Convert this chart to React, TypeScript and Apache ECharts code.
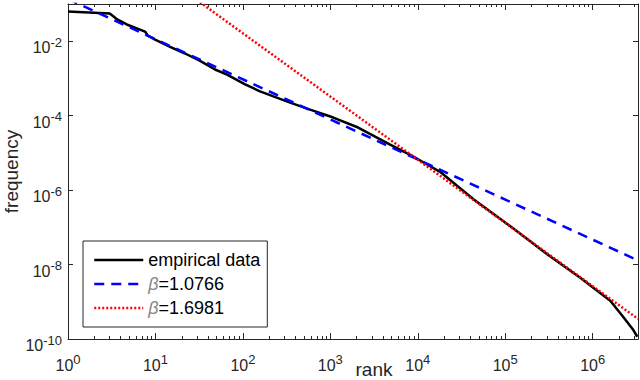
import React, { useEffect, useRef } from 'react';
import * as echarts from 'echarts';

// Empirical rank-frequency data
const empiricalRank = [1, 3, 3.7, 4.7, 7.6, 8.2, 9.9, 14.7, 21.8, 32.4, 48, 66, 106, 157, 347, 587, 1080, 2080, 4830, 8180, 18000, 43000, 124000, 302000, 721000, 1590000, 2240000, 2920000, 3240000];
const empiricalFreq = [0.063, 0.0556, 0.038, 0.0282, 0.0182, 0.0141, 0.011, 0.00708, 0.00468, 0.00295, 0.00174, 0.00126, 6.9e-4, 4.5e-4, 2.24e-4, 1.45e-4, 8.9e-5, 4.8e-5, 1.66e-5, 8.9e-6, 3.1e-6, 5.75e-7, 9.3e-8, 1.9e-8, 4.4e-9, 1.07e-9, 3.9e-10, 1.74e-10, 1.15e-10];

// Power-law fit lines (end points)
const fit1Rank = [1, 3.3e6];
const fit1Freq = [0.135, 1.29e-8];
const fit2Rank = [25, 3.3e6];
const fit2Freq = [0.172, 3.47e-10];

const seriesNames = ['empirical data', 'β=1.0766', 'β=1.6981'];

const xTickExponents = [0, 1, 2, 3, 4, 5, 6];
const yTickExponents = [-10, -8, -6, -4, -2];
const minorMultipliers = [2, 3, 4, 5, 6, 7, 8, 9];

const xMin = 1;
const xMax = 3.3e6;
const yMin = 1e-10;
const yMax = 0.1;

const FONT = '"Liberation Sans", Arial, Helvetica, sans-serif';
const AX = '#262626';

export default function App() {
  const ref = useRef<HTMLDivElement>(null);
  useEffect(() => {
    if (!ref.current) return;
    const chart = echarts.init(ref.current, undefined, { renderer: 'svg' });
    const lx = (v: number) => Math.log10(v);
    const xLo = lx(xMin), xHi = lx(xMax), yLo = lx(yMin), yHi = lx(yMax);
    const minorX: number[] = [];
    for (const d of xTickExponents) {
      for (const k of minorMultipliers) {
        const v = lx(k) + d;
        if (v < xHi) minorX.push(v);
      }
    }
    const pts = (r: number[], f: number[]) => r.map((x, i) => [lx(x), lx(f[i])]);
    const rich = {
      b: { fontSize: 16, fontFamily: FONT, color: AX, lineHeight: 20, verticalAlign: 'bottom' as const },
      s: { fontSize: 13, fontFamily: FONT, color: AX, lineHeight: 7, verticalAlign: 'top' as const },
    };
    const fmt = (v: number) => `{b|10}{s|${Math.round(v)}}`;
    const axisLine = { show: true, onZero: false, lineStyle: { color: AX, width: 1 } };
    const tickStyle = { color: AX, width: 1 };
    const baseX = { type: 'value' as const, min: xLo, max: xHi, splitLine: { show: false } };
    const baseY = { type: 'value' as const, min: yLo, max: yHi, splitLine: { show: false } };
    const hideSymbol = { opacity: 0, borderWidth: 0 };

    chart.setOption({
      animation: false,
      backgroundColor: '#fff',
      grid: { left: 68, right: 2, top: 4, bottom: 41, containLabel: false, outerBoundsMode: 'none' },
      xAxis: [
        {
          ...baseX, position: 'bottom', axisLine,
          axisTick: { inside: true, length: 6, customValues: xTickExponents, lineStyle: tickStyle },
          axisLabel: { customValues: xTickExponents, formatter: fmt, rich, margin: 14 },
          name: 'rank', nameLocation: 'middle', nameGap: 21, nameMoveOverlap: false,
          nameTextStyle: { fontSize: 19, fontFamily: FONT, color: AX, padding: [0, 0, 0, 42] },
        },
        {
          ...baseX, position: 'bottom', axisLine: { show: false },
          axisTick: { inside: true, length: 3, customValues: minorX, lineStyle: tickStyle },
          axisLabel: { show: false },
        },
        {
          ...baseX, position: 'top', axisLine,
          axisTick: { inside: true, length: 6, customValues: xTickExponents, lineStyle: tickStyle },
          axisLabel: { show: false },
        },
        {
          ...baseX, position: 'top', axisLine: { show: false },
          axisTick: { inside: true, length: 3, customValues: minorX, lineStyle: tickStyle },
          axisLabel: { show: false },
        },
      ],
      yAxis: [
        {
          ...baseY, position: 'left', axisLine,
          axisTick: { inside: true, length: 5, customValues: yTickExponents, lineStyle: tickStyle },
          axisLabel: { customValues: yTickExponents, formatter: fmt, rich, margin: 6, padding: [9, 0, 0, 0] },
          name: 'frequency', nameLocation: 'middle', nameGap: 47, nameMoveOverlap: false,
          nameTextStyle: { fontSize: 19, fontFamily: FONT, color: AX },
        },
        {
          ...baseY, position: 'right', axisLine,
          axisTick: { inside: true, length: 5, customValues: yTickExponents, lineStyle: tickStyle },
          axisLabel: { show: false },
        },
      ],
      legend: {
        orient: 'vertical',
        left: 83,
        top: 241,
        padding: [10, 7, 10, 10],
        borderColor: AX,
        borderWidth: 1,
        backgroundColor: '#fff',
        itemWidth: 49,
        itemHeight: 14,
        itemGap: 6,
        selectedMode: false,
        data: [
          { name: seriesNames[0], lineStyle: { width: 2.5 }, itemStyle: hideSymbol },
          { name: seriesNames[1], lineStyle: { width: 2.5 }, itemStyle: hideSymbol },
          { name: seriesNames[2], lineStyle: { width: 2.5 }, itemStyle: hideSymbol },
        ],
        formatter: (name: string) =>
          name.startsWith('β') ? `{g|β}{n|${name.slice(1)}}` : `{n|${name}}`,
        textStyle: {
          rich: {
            n: { fontSize: 18, fontFamily: FONT, color: '#000' },
            g: { fontSize: 18, fontFamily: FONT, color: '#888', fontStyle: 'italic' },
          },
        },
      },
      series: [
        {
          name: seriesNames[0], type: 'line', xAxisIndex: 0, yAxisIndex: 0,
          data: pts(empiricalRank, empiricalFreq), symbol: 'none', clip: true,
          lineStyle: { color: '#000', width: 2.5 }, itemStyle: { color: '#000' },
        },
        {
          name: seriesNames[1], type: 'line', xAxisIndex: 0, yAxisIndex: 0,
          data: pts(fit1Rank, fit1Freq), symbol: 'none', clip: true,
          lineStyle: { color: '#0000ff', width: 2.5, type: [10, 7] }, itemStyle: { color: '#0000ff' },
        },
        {
          name: seriesNames[2], type: 'line', xAxisIndex: 0, yAxisIndex: 0,
          data: pts(fit2Rank, fit2Freq), symbol: 'none', clip: true,
          lineStyle: { color: '#ff0000', width: 2.5, type: [2, 2] }, itemStyle: { color: '#ff0000' },
        },
      ],
    });
    return () => chart.dispose();
  }, []);
  return <div ref={ref} style={{ position: 'fixed', left: 0, top: 0, width: 640, height: 380 }} />;
}
